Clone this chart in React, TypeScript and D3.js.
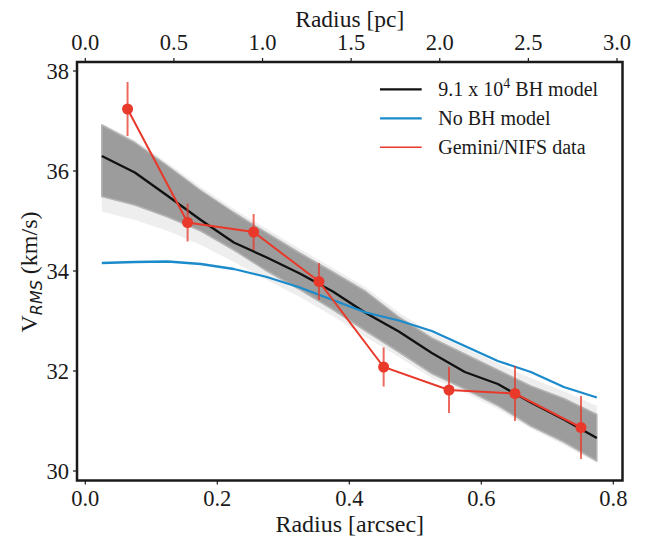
import React from "react";
import * as d3 from "d3";

// ---- data ----
const modelRadius = [0.025, 0.075, 0.125, 0.175, 0.225, 0.275, 0.325, 0.375, 0.425, 0.475, 0.525, 0.575, 0.625, 0.675, 0.725, 0.775];
const bhModel = [36.3, 35.97, 35.5, 35.02, 34.57, 34.27, 33.95, 33.59, 33.16, 32.79, 32.36, 31.98, 31.74, 31.37, 31.03, 30.66];
const noBhModel = [34.16, 34.18, 34.19, 34.14, 34.04, 33.88, 33.67, 33.42, 33.17, 33.01, 32.8, 32.5, 32.2, 31.98, 31.68, 31.47];
const bandUpper = [36.92, 36.57, 36.1, 35.61, 35.17, 34.76, 34.36, 33.98, 33.59, 33.08, 32.66, 32.34, 32.02, 31.7, 31.45, 31.13];
const bandLower = [35.49, 35.32, 35.08, 34.8, 34.42, 34.0, 33.63, 33.23, 32.8, 32.38, 31.95, 31.64, 31.31, 30.9, 30.58, 30.2];
const fringeUpper = [36.95, 36.62, 36.16, 35.68, 35.24, 34.84, 34.44, 34.06, 33.67, 33.17, 32.76, 32.46, 32.15, 31.86, 31.6, 31.3];
const fringeLower = [35.19, 35.02, 34.8, 34.52, 34.18, 33.82, 33.48, 33.1, 32.68, 32.28, 31.86, 31.57, 31.24, 30.85, 30.52, 30.16];

const dataRadius = [0.064, 0.155, 0.255, 0.354, 0.452, 0.551, 0.651, 0.751];
const dataVrms = [37.24, 34.97, 34.78, 33.79, 32.08, 31.62, 31.55, 30.87];
const dataErr = [0.54, 0.38, 0.36, 0.37, 0.39, 0.46, 0.55, 0.63];

const xTicks = [0.0, 0.2, 0.4, 0.6, 0.8];
const pcTicks = [0.0, 0.5, 1.0, 1.5, 2.0, 2.5, 3.0];
const yTicks = [30, 32, 34, 36, 38];

const legendItems = ["bh", "nobh", "data"];

const W = 647, H = 540;
const L = 77, R = 622.5, T = 62, B = 480.5;

const RED = "#e8392b";
const BLUE = "#1b8bcb";
const SERIF = "Liberation Serif, Tinos, DejaVu Serif, serif";

export default function App() {
  const x = d3.scaleLinear().domain([-0.01258, 0.8139]).range([L, R]);
  const xpc = d3.scaleLinear().domain([-0.04683, 3.031]).range([L, R]);
  const y = d3.scaleLinear().domain([29.81, 38.18]).range([B, T]);

  const line = d3.line<number>().x((_, i) => x(modelRadius[i])).y((d) => y(d)).curve(d3.curveLinear);
  const areaOf = (up: number[], lo: number[]) =>
    d3.area<number>().x((_, i) => x(modelRadius[i])).y0((_, i) => y(lo[i])).y1((_, i) => y(up[i]))(up) || "";
  const dataLine = d3.line<number>().x((_, i) => x(dataRadius[i])).y((d) => y(d))(dataVrms) || "";

  const tickFont = 22.5;
  const textStyle = { fontFamily: SERIF };

  return (
    <svg width={W} height={H} style={{ position: "absolute", left: 0, top: 0, background: "#fff" }}>
      <rect x={0} y={0} width={W} height={H} fill="#fff" />
      <defs>
        <clipPath id="plotclip">
          <rect x={L} y={T} width={R - L} height={B - T} />
        </clipPath>
      </defs>
      <g clipPath="url(#plotclip)">
        <path d={areaOf(fringeUpper, fringeLower)} fill="#e2e2e2" opacity={0.6} />
        <path d={areaOf(bandUpper, bandLower)} fill="#9b9c9b" stroke="#b2b3b2" strokeWidth={1.5} strokeLinejoin="round" />
        <path d={line(bhModel) || ""} fill="none" stroke="#111" strokeWidth={2.3} strokeLinejoin="round" />
        <path d={line(noBhModel) || ""} fill="none" stroke={BLUE} strokeWidth={2.3} strokeLinejoin="round" />
        {dataRadius.map((r, i) => (
          <line key={"e" + i} x1={x(r)} x2={x(r)} y1={y(dataVrms[i] + dataErr[i])} y2={y(dataVrms[i] - dataErr[i])}
            stroke={RED} strokeWidth={2} opacity={0.75} />
        ))}
        <path d={dataLine} fill="none" stroke={RED} strokeWidth={2} />
        {dataRadius.map((r, i) => (
          <circle key={"m" + i} cx={x(r)} cy={y(dataVrms[i])} r={5.5} fill={RED} />
        ))}
      </g>

      {/* frame */}
      <rect x={L} y={T} width={R - L} height={B - T} fill="none" stroke="#1a1a1a" strokeWidth={2.5} />

      {/* bottom axis */}
      {xTicks.map((t) => (
        <g key={"xb" + t}>
          <line x1={x(t)} x2={x(t)} y1={B} y2={B + 4} stroke="#1a1a1a" strokeWidth={1.2} />
          <text x={x(t)} y={506} textAnchor="middle" style={textStyle} fontSize={tickFont} fill="#1a1a1a">{t.toFixed(1)}</text>
        </g>
      ))}
      <text x={(L + R) / 2} y={531.5} textAnchor="middle" style={textStyle} fontSize={24} fill="#1a1a1a">Radius [arcsec]</text>

      {/* top axis */}
      {pcTicks.map((t) => (
        <g key={"xt" + t}>
          <line x1={xpc(t)} x2={xpc(t)} y1={T} y2={T - 4} stroke="#1a1a1a" strokeWidth={1.2} />
          <text x={xpc(t)} y={50} textAnchor="middle" style={textStyle} fontSize={tickFont} fill="#1a1a1a">{t.toFixed(1)}</text>
        </g>
      ))}
      <text x={(L + R) / 2} y={27} textAnchor="middle" style={textStyle} fontSize={23.5} fill="#1a1a1a">Radius [pc]</text>

      {/* left axis */}
      {yTicks.map((t) => (
        <g key={"y" + t}>
          <line x1={L} x2={L - 4} y1={y(t)} y2={y(t)} stroke="#1a1a1a" strokeWidth={1.2} />
          <text x={69} y={y(t) + 8} textAnchor="end" style={textStyle} fontSize={tickFont} fill="#1a1a1a">{t}</text>
        </g>
      ))}
      <text transform={`translate(37,272) rotate(-90)`} textAnchor="middle" style={textStyle} fontSize={24} fill="#1a1a1a">
        V<tspan style={{ fontFamily: "DejaVu Sans, sans-serif" }} fontStyle="italic" fontSize={16} dy={5}>RMS</tspan>
        <tspan dy={-5}> (km/s)</tspan>
      </text>

      {/* legend */}
      {legendItems.map((k, i) => {
        const ly = 89.3 + i * 29;
        const color = k === "bh" ? "#111" : k === "nobh" ? BLUE : RED;
        return (
          <g key={k}>
            <line x1={380} x2={421.7} y1={ly} y2={ly} stroke={color} strokeWidth={k === "data" ? 1.6 : 2.3} />
            <text x={438.3} y={ly + 6.5} style={textStyle} fontSize={20} fill="#1a1a1a">
              {k === "bh" ? (
                <>
                  9.1 x 10<tspan fontSize={14} dy={-8}>4</tspan><tspan dy={8}> BH model</tspan>
                </>
              ) : k === "nobh" ? "No BH model" : "Gemini/NIFS data"}
            </text>
          </g>
        );
      })}
    </svg>
  );
}
